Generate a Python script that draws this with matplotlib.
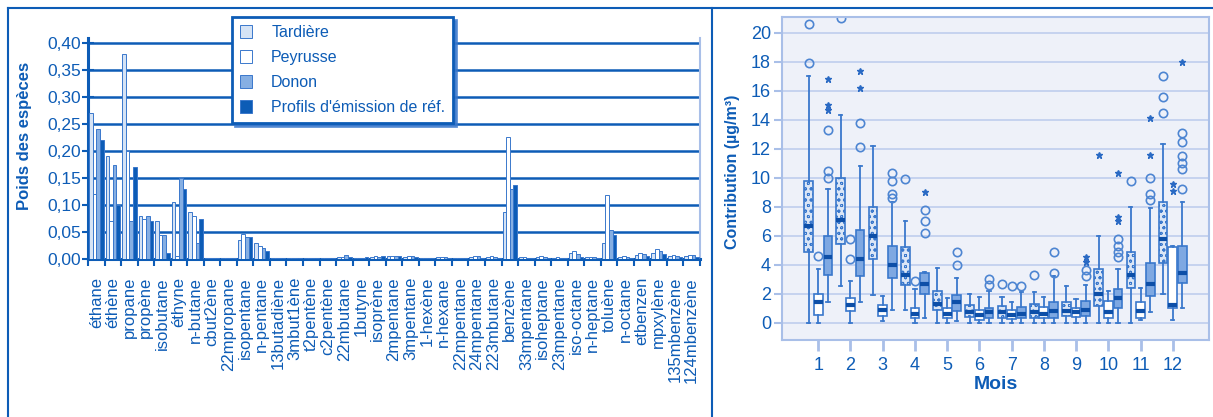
import matplotlib
matplotlib.use("Agg")
import matplotlib.pyplot as plt
from matplotlib import font_manager
from matplotlib.lines import Line2D
import numpy as np

# --- data : poids des espèces (profils) ---
especes = ["éthane", "éthène", "propane", "propène", "isobutane", "éthyne", "n-butane",
           "cbut2ène", "22mpropane", "isopentane", "n-pentane", "13butadiène", "3mbut1ène",
           "t2pentène", "c2pentène", "22mbutane", "1butyne", "isoprène", "2mpentane",
           "3mpentane", "1-hexène", "n-hexane", "22mpentane", "24mpentane", "223mbutane",
           "benzène", "33mpentane", "isoheptane", "23mpentane", "iso-octane", "n-heptane",
           "toluène", "n-octane", "etbenzen", "mpxylène", "135mbenzène", "124mbenzène"]
tardiere = [0.27, 0.19, 0.38, 0.08, 0.07, 0.105, 0.087, 0.001, 0.001, 0.035, 0.03, 0.001, 0.001,
            0.001, 0.001, 0.003, 0.002, 0.004, 0.006, 0.004, 0.001, 0.003, 0.001, 0.003, 0.004,
            0.087, 0.003, 0.004, 0.002, 0.012, 0.003, 0.03, 0.004, 0.008, 0.012, 0.006, 0.005]
peyrusse = [0.12, 0.07, 0.20, 0.075, 0.045, 0.005, 0.08, 0.001, 0.001, 0.047, 0.025, 0.001, 0.001,
            0.001, 0.001, 0.004, 0.001, 0.006, 0.005, 0.006, 0.001, 0.004, 0.001, 0.006, 0.006,
            0.226, 0.004, 0.005, 0.003, 0.015, 0.004, 0.118, 0.006, 0.012, 0.018, 0.008, 0.008]
donon = [0.24, 0.175, 0.07, 0.08, 0.045, 0.15, 0.03, 0.001, 0.001, 0.04, 0.02, 0.001, 0.001,
         0.001, 0.001, 0.008, 0.002, 0.003, 0.006, 0.005, 0.002, 0.004, 0.001, 0.005, 0.004,
         0.13, 0.002, 0.003, 0.002, 0.01, 0.003, 0.054, 0.003, 0.01, 0.015, 0.005, 0.007]
profils = [0.22, 0.10, 0.17, 0.07, 0.012, 0.13, 0.075, 0.002, 0.001, 0.04, 0.015, 0.002, 0.001,
           0.002, 0.001, 0.004, 0.003, 0.005, 0.006, 0.003, 0.001, 0.002, 0.001, 0.002, 0.001,
           0.137, 0.002, 0.002, 0.002, 0.004, 0.002, 0.045, 0.002, 0.006, 0.01, 0.004, 0.004]
series_noms = ["Tardière", "Peyrusse", "Donon", "Profils d'émission de réf."]

# --- data : contributions mensuelles (boxplots) ---
mois = list(range(1, 13))
# Tardière
t_q1 = [4.9, 5.4, 4.4, 2.6, 0.9, 0.4, 0.35, 0.35, 0.45, 1.15, 2.4, 4.1]
t_med = [6.7, 7.1, 6.0, 3.3, 1.3, 0.7, 0.7, 0.7, 0.8, 1.95, 3.3, 5.8]
t_q3 = [9.8, 10.0, 8.0, 5.2, 2.2, 1.2, 1.15, 1.3, 1.4, 3.7, 4.9, 8.3]
t_lo = [0, 2.5, 1.9, 0.9, 0, 0, 0, 0, 0, 0, 0, 2.0]
t_hi = [17.0, 14.3, 12.2, 7.0, 3.8, 2.0, 1.8, 2.1, 2.5, 6.0, 8.0, 12.3]
t_out = [[17.9, 20.6], [21.0], [], [9.9], [], [], [2.7], [3.3], [], [], [9.8], [14.5, 15.6, 17.0]]
t_star = [[], [], [], [], [], [], [], [], [], [11.6], [], []]
# Peyrusse
p_q1 = [0.55, 0.8, 0.45, 0.35, 0.3, 0.2, 0.25, 0.3, 0.4, 0.35, 0.35, 1.0]
p_med = [1.4, 1.25, 0.9, 0.6, 0.6, 0.5, 0.5, 0.6, 0.7, 0.7, 0.8, 1.25]
p_q3 = [1.95, 1.7, 1.25, 1.0, 1.0, 0.9, 0.9, 1.1, 1.0, 1.5, 1.4, 5.2]
p_lo = [0, 0, 0.1, 0, 0, 0, 0, 0, 0, 0, 0.2, 0.2]
p_hi = [3.7, 2.9, 1.85, 2.3, 1.7, 1.8, 1.4, 1.8, 1.6, 2.2, 2.4, 5.3]
p_out = [[4.6], [4.4, 5.8], [], [2.9], [], [], [2.5], [], [], [], [], []]
p_star = [[], [], [], [], [], [], [], [], [], [], [], [9.1, 9.6]]
# Donon
d_q1 = [3.3, 3.2, 3.1, 1.95, 0.8, 0.3, 0.3, 0.35, 0.45, 1.0, 1.85, 2.75]
d_med = [4.5, 4.4, 4.0, 2.65, 1.4, 0.7, 0.6, 0.8, 0.9, 1.7, 2.65, 3.45]
d_q3 = [6.0, 6.4, 5.3, 3.45, 1.9, 1.0, 1.1, 1.4, 1.5, 2.3, 4.1, 5.3]
d_lo = [1.4, 1.4, 0.9, 0.3, 0.1, 0, 0, 0, 0, 0, 0.7, 1.0]
d_hi = [9.2, 10.8, 8.3, 3.5, 3.1, 2.2, 2.1, 3.2, 2.6, 3.7, 7.9, 8.3]
d_out = [[10.0, 10.5, 13.3], [12.1, 13.8], [8.6, 8.9, 9.8, 10.3], [6.2, 7.0, 7.8], [4.0, 4.9],
         [2.6, 3.0], [2.5], [3.4, 4.9], [3.2, 3.6], [4.5, 4.9, 5.3, 5.8],
         [8.5, 8.85, 10.0], [9.2, 10.6, 11.0, 11.5, 12.5, 13.1]]
d_star = [[14.7, 15.0, 16.8], [16.2, 17.4], [], [9.0], [], [], [], [], [4.2, 4.5],
          [7.0, 7.3, 10.3], [11.6, 14.1], [18.0]]

# --- style ---
names = {f.name for f in font_manager.fontManager.ttflist}
narrow = "Liberation Sans Narrow" if "Liberation Sans Narrow" in names else "Liberation Sans"
plt.rcParams["font.family"] = [narrow, "DejaVu Sans"]
plt.rcParams["hatch.linewidth"] = 0.6
bleu = "#0d5cb6"
bleu_l = "#3a78cc"
bleu_c = "#a9bfe8"

W, H = 1213, 417
fig = plt.figure(figsize=(W / 100, H / 100), dpi=100)

# ---------- gauche : barres ----------
ax1 = fig.add_axes([88 / W, 1 - 259 / H, 612 / W, (259 - 37.6) / H])
x = np.arange(len(especes))
w = 0.22
couleurs = ["#d5e3f5", "white", "#86afe3", bleu]
for k, vals in enumerate([tardiere, peyrusse, donon, profils]):
    ax1.bar(x + (k - 1.5) * w, vals, w, color=couleurs[k], edgecolor=bleu_l, lw=0.7,
            label=series_noms[k], zorder=3)
ax1.set_xlim(-0.5, len(especes) - 0.5)
ax1.set_ylim(0, 0.41)
yt = np.arange(0, 0.401, 0.05)
ax1.set_yticks(yt, [f"{v:.2f}".replace(".", ",") for v in yt])
ax1.yaxis.grid(True, color=bleu, lw=1.8, zorder=0)
ax1.set_axisbelow(True)
ax1.set_xticks(np.arange(-0.5, len(especes), 1))
ax1.set_xticklabels([])
ax1.set_xticks(x, especes, minor=True)
ax1.tick_params(axis="x", which="major", length=5, width=1.5, color=bleu, direction="out")
ax1.tick_params(axis="x", which="minor", length=0, pad=13, labelsize=12, labelcolor=bleu)
for t in ax1.get_xticklabels(minor=True):
    t.set_rotation(90)
    t.set_family(["Liberation Sans", "DejaVu Sans"])
ax1.tick_params(axis="y", length=8, width=1.5, color=bleu, direction="inout",
                labelsize=12.5, labelcolor=bleu, pad=1)
for s in ["left", "bottom"]:
    ax1.spines[s].set_color(bleu)
    ax1.spines[s].set_linewidth(2.2)
ax1.spines["top"].set_visible(False)
ax1.spines["right"].set_color(bleu_c)
ax1.spines["right"].set_linewidth(1.5)
ax1.set_ylabel("Poids des espèces", color=bleu, fontsize=12, fontweight="bold",
               family=["Liberation Sans", "DejaVu Sans"])
ax1.yaxis.set_label_coords(-0.092, 0.556)
leg = ax1.legend(loc="upper left", bbox_to_anchor=(232 / W, 1 - 17 / H),
                 bbox_transform=fig.transFigure, fancybox=False, edgecolor=bleu,
                 framealpha=1, fontsize=11.5, labelcolor=bleu, handlelength=0.75,
                 handleheight=0.9, handletextpad=1.2, labelspacing=0.62, borderpad=0.5,
                 borderaxespad=0, shadow={"color": bleu_l, "alpha": 0.8})
leg.get_frame().set_linewidth(2)
leg.set_zorder(10)

# ---------- droite : boxplots ----------
ax2 = fig.add_axes([782 / W, 77 / H, 427 / W, 323 / H])
ax2.set_facecolor("#eef1f9")
ax2.yaxis.grid(True, color="#c2d0ee", lw=1.3, zorder=0)
ax2.set_axisbelow(True)

sites = [
    (t_q1, t_med, t_q3, t_lo, t_hi, t_out, t_star, -0.3, "#dbe6f6", "ooo"),
    (p_q1, p_med, p_q3, p_lo, p_hi, p_out, p_star, 0.0, "white", None),
    (d_q1, d_med, d_q3, d_lo, d_hi, d_out, d_star, 0.3, "#7ea8e2", None),
]
for q1, med, q3, lo, hi, out, star, dx, fc, hatch in sites:
    stats = [dict(q1=q1[i], med=med[i], q3=q3[i], whislo=lo[i], whishi=hi[i], fliers=out[i])
             for i in range(12)]
    pos = [m + dx for m in mois]
    ax2.bxp(stats, positions=pos, widths=0.27, patch_artist=True, manage_ticks=False,
            showcaps=True, capwidths=0.1,
            boxprops=dict(facecolor=fc, edgecolor=bleu_l, lw=1.2, hatch=hatch),
            medianprops=dict(color="#0d4fa8", lw=3),
            whiskerprops=dict(color=bleu_l, lw=1.3),
            capprops=dict(color=bleu_l, lw=1.3),
            flierprops=dict(marker="o", mfc="none", mec="#4d85d2", ms=6, mew=1.2))
    sx = [pos[i] for i in range(12) for _ in star[i]]
    sy = [v for i in range(12) for v in star[i]]
    ax2.plot(sx, sy, "*", color="#2a6ac4", ms=5, ls="none")

ax2.set_xlim(-0.125, 13.125)
ax2.set_ylim(-1.2, 21.1)
ax2.set_xticks(mois, [str(m) for m in mois])
ax2.set_yticks(range(0, 21, 2))
ax2.tick_params(axis="x", length=8, width=2, color=bleu_c, direction="out",
                labelsize=13, labelcolor=bleu, pad=4)
ax2.tick_params(axis="y", length=6, width=1.5, color=bleu_c, direction="out",
                labelsize=13, labelcolor=bleu, pad=2)
for s in ax2.spines.values():
    s.set_color(bleu_c)
    s.set_linewidth(1.5)
ax2.set_xlabel("Mois", color=bleu, fontsize=14, fontweight="bold", labelpad=2)
ax2.set_ylabel("Contribution (µg/m³)", color=bleu, fontsize=11.5, fontweight="bold",
               family=["Liberation Sans", "DejaVu Sans"])
ax2.yaxis.set_label_coords(-0.098, 0.52)

# cadre
ytop = 1 - 8 / H
fig.add_artist(Line2D([8 / W, 1], [ytop, ytop], transform=fig.transFigure, color=bleu, lw=1.5))
fig.add_artist(Line2D([8 / W, 8 / W], [0, ytop], transform=fig.transFigure, color=bleu, lw=1.5))
fig.add_artist(Line2D([712 / W, 712 / W], [0, ytop], transform=fig.transFigure, color=bleu, lw=1.5))

fig.savefig("out.png", dpi=100)
